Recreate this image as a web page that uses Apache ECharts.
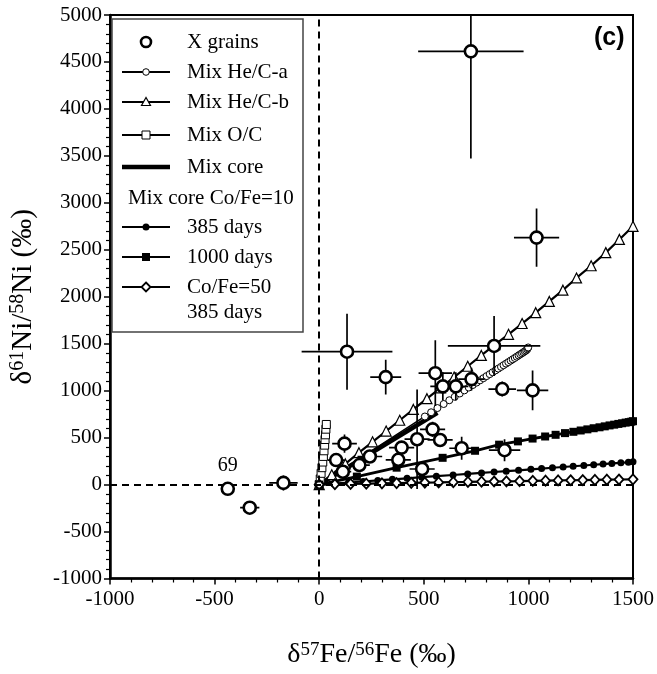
<!DOCTYPE html>
<html><head><meta charset="utf-8">
<script src="https://cdn.jsdelivr.net/npm/echarts@6/dist/echarts.min.js"></script>
<style>html,body{margin:0;padding:0;background:#fff}#c{width:657px;height:674px}</style>
</head><body><div id="c"></div>
<script>
// X grains: value, 1-sigma errors
const grainX  = [725, 1039, 836, 133, 318, 555, 591, 653, 728, 875, 1020, 542, 468, 578, 681, 886, 492, 121, 81, 113, 192, 242, 378, 394, -437, -332, -171];
const grainY  = [4613, 2630, 1476, 1415, 1144, 1186, 1046, 1046, 1123, 1017, 1003, 588, 483, 475, 387, 366, 166, 436, 261, 137, 208, 299, 264, 394, -45, -246, 18];
const grainEX = [252, 108, 221, 217, 74, 80, 60, 60, 63, 66, 75, 60, 60, 60, 59, 75, 60, 59, 40, 40, 50, 59, 60, 60, 0, 46, 68];
const grainEY = [1140, 310, 320, 405, 185, 350, 150, 150, 120, 80, 211, 80, 530, 60, 123, 118, 60, 97, 60, 60, 60, 60, 60, 60, 0, 20, 80];
const grainLabel = ['', '', '', '', '', '', '', '', '', '', '', '', '', '', '', '', '', '', '', '', '', '', '', '', '69', '', ''];

// Mixing models
const hecaX = [0, 505, 535, 565, 595, 622, 648, 672, 694, 715, 734, 752, 769, 785, 800, 815, 829, 843, 856, 869, 881, 893, 904, 915, 925, 935, 944, 953, 961, 969, 976, 983, 989, 994, 997, 999];
const hecaY = [0, 725, 770, 815, 858, 898, 935, 970, 1003, 1033, 1060, 1086, 1110, 1133, 1155, 1176, 1196, 1216, 1235, 1253, 1271, 1288, 1304, 1320, 1334, 1348, 1362, 1375, 1387, 1398, 1409, 1419, 1428, 1440, 1452, 1460];
const hecbX = [0, 60, 125, 190, 255, 320, 385, 450, 515, 580, 645, 710, 775, 840, 905, 970, 1035, 1100, 1165, 1230, 1300, 1370, 1435, 1500];
const hecbY = [0, 105, 220, 340, 455, 570, 685, 800, 915, 1030, 1145, 1260, 1375, 1490, 1600, 1715, 1830, 1950, 2070, 2200, 2330, 2470, 2610, 2750];
const ocX = [0, 5, 9, 13, 17, 20, 23, 26, 28, 30, 32, 34];
const ocY = [0, 60, 120, 180, 240, 300, 360, 420, 480, 530, 590, 640];
const coreX = [0, 565];
const coreY = [0, 765];
const d385X = [0, 70, 140, 210, 280, 350, 420, 490, 560, 640, 710, 776, 836, 894, 953, 1012, 1063, 1115, 1166, 1214, 1265, 1312, 1357, 1399, 1442, 1478, 1500];
const d385Y = [0, 10, 22, 33, 44, 56, 67, 79, 90, 102, 113, 124, 134, 143, 152, 162, 170, 179, 187, 195, 203, 211, 218, 225, 232, 238, 242];
const d1000X = [0, 180, 370, 590, 745, 860, 950, 1020, 1080, 1130, 1175, 1215, 1250, 1282, 1312, 1340, 1365, 1388, 1410, 1430, 1448, 1465, 1480, 1492, 1500];
const d1000Y = [0, 85, 180, 285, 360, 425, 460, 490, 512, 530, 548, 562, 576, 588, 600, 610, 620, 630, 638, 646, 653, 660, 665, 670, 675];
const co50X = [0, 75, 150, 225, 300, 370, 440, 505, 571, 641, 711, 776, 836, 895, 958, 1021, 1082, 1142, 1202, 1260, 1318, 1375, 1433, 1500];
const co50Y = [0, 4, 7, 10, 13, 16, 19, 21, 23, 26, 28, 31, 33, 35, 37, 40, 42, 44, 46, 48, 50, 52, 54, 56];

const xTicks = [-1000, 1500, 500];
const yTicks = [-1000, 5000, 500];

const SERIF = "Liberation Serif";
const zip = (a, b) => a.map((v, i) => [v, b[i]]);

const chart = echarts.init(document.getElementById('c'), null, {renderer: 'canvas'});

function modelSeries(name, xs, ys, opt) {
  return Object.assign({
    name, type: 'line', data: zip(xs, ys), showSymbol: true, symbolKeepAspect: true,
    lineStyle: {color: '#000', width: 2},
    itemStyle: {color: '#fff', borderColor: '#000', borderWidth: 1.2},
    animation: false, z: 2, clip: true
  }, opt);
}

// Legend drawn as graphic elements
const LX1 = 122, LX2 = 170, LCX = 146, TX = 187;
const rows = [42, 72, 102, 135, 167, 198, 227, 257, 287, 312];
const g = [];
g.push({type: 'rect', shape: {x: 112, y: 19, width: 191, height: 313}, style: {fill: '#fff', stroke: '#444', lineWidth: 1.5}, z: 50});
function lline(y, w) { g.push({type: 'line', shape: {x1: LX1, y1: y, x2: LX2, y2: y}, style: {stroke: '#000', lineWidth: w || 2}, z: 51}); }
function ltext(x, y, t) { g.push({type: 'text', x: x, y: y, style: {text: t, font: '21px "Liberation Serif", serif', fill: '#000', verticalAlign: 'middle'}, z: 52}); }
g.push({type: 'circle', shape: {cx: LCX, cy: rows[0], r: 5}, style: {fill: '#fff', stroke: '#000', lineWidth: 2.6}, z: 52});
ltext(TX, rows[0], 'X grains');
lline(rows[1]); g.push({type: 'circle', shape: {cx: LCX, cy: rows[1], r: 3.3}, style: {fill: '#fff', stroke: '#000', lineWidth: 1}, z: 52});
ltext(TX, rows[1], 'Mix He/C-a');
lline(rows[2]); g.push({type: 'polygon', shape: {points: [[LCX, rows[2] - 4.5], [LCX - 4.5, rows[2] + 3.5], [LCX + 4.5, rows[2] + 3.5]]}, style: {fill: '#fff', stroke: '#000', lineWidth: 1.2}, z: 52});
ltext(TX, rows[2], 'Mix He/C-b');
lline(rows[3]); g.push({type: 'rect', shape: {x: LCX - 4, y: rows[3] - 4, width: 8, height: 8}, style: {fill: '#fff', stroke: '#000', lineWidth: 1}, z: 52});
ltext(TX, rows[3], 'Mix O/C');
lline(rows[4], 4.5);
ltext(TX, rows[4], 'Mix core');
ltext(128, rows[5], 'Mix core Co/Fe=10');
lline(rows[6]); g.push({type: 'circle', shape: {cx: LCX, cy: rows[6], r: 3.5}, style: {fill: '#000'}, z: 52});
ltext(TX, rows[6], '385 days');
lline(rows[7]); g.push({type: 'rect', shape: {x: LCX - 4, y: rows[7] - 4, width: 8, height: 8}, style: {fill: '#000'}, z: 52});
ltext(TX, rows[7], '1000 days');
lline(rows[8]); g.push({type: 'polygon', shape: {points: [[LCX, rows[8] - 4.5], [LCX + 4.5, rows[8]], [LCX, rows[8] + 4.5], [LCX - 4.5, rows[8]]]}, style: {fill: '#fff', stroke: '#000', lineWidth: 1.8}, z: 52});
ltext(TX, rows[8], 'Co/Fe=50');
ltext(TX, rows[9], '385 days');
g.push({type: 'text', x: 594, y: 38, style: {text: '(c)', font: 'bold 25px "Liberation Sans", sans-serif', fill: '#000', verticalAlign: 'middle'}, z: 52});

const titleRichX = {
  b: {fontFamily: SERIF, fontSize: 28, color: '#000'},
  s: {fontFamily: SERIF, fontSize: 19, color: '#000', verticalAlign: 'bottom', padding: [0, 0, 10, 0]}
};
const titleRichY = {
  b: {fontFamily: SERIF, fontSize: 29, color: '#000'},
  s: {fontFamily: SERIF, fontSize: 20, color: '#000', verticalAlign: 'bottom', padding: [0, 0, 10, 0]}
};
const plainLabel = v => String(v);

const option = {
  backgroundColor: '#fff',
  animation: false,
  grid: {left: 108, right: 21, top: 15, bottom: 91, show: true, borderColor: '#000', borderWidth: 2, backgroundColor: 'transparent'},
  xAxis: {
    type: 'value', min: xTicks[0], max: xTicks[1], interval: xTicks[2],
    name: '{b|δ}{s|57}{b|Fe/}{s|56}{b|Fe (‰)}', nameLocation: 'middle', nameGap: 62,
    nameTextStyle: {rich: titleRichX},
    axisLine: {onZero: false, lineStyle: {color: '#000', width: 2.5}},
    axisTick: {inside: false, length: 6, lineStyle: {color: '#000', width: 1.5}},
    minorTick: {show: true, splitNumber: 5, length: 4, lineStyle: {color: '#000', width: 1.2}},
    splitLine: {show: false},
    axisLabel: {fontFamily: SERIF, fontSize: 21, color: '#000', margin: 10, formatter: plainLabel}
  },
  yAxis: {
    type: 'value', min: yTicks[0], max: yTicks[1], interval: yTicks[2],
    name: '{b|δ}{s|61}{b|Ni/}{s|58}{b|Ni (‰)}', nameLocation: 'middle', nameGap: 72, nameRotate: 90,
    nameTextStyle: {rich: titleRichY},
    axisLine: {onZero: false, lineStyle: {color: '#000', width: 2.5}},
    axisTick: {inside: false, length: 6, lineStyle: {color: '#000', width: 1.5}},
    minorTick: {show: true, splitNumber: 5, length: 4, lineStyle: {color: '#000', width: 1.2}},
    splitLine: {show: false},
    axisLabel: {fontFamily: SERIF, fontSize: 21, color: '#000', margin: 8, formatter: plainLabel}
  },
  graphic: g,
  series: [
    {
      type: 'line', data: [], silent: true,
      markLine: {
        silent: true, symbol: 'none', animation: false,
        lineStyle: {color: '#000', width: 2, type: [7, 5]},
        label: {show: false},
        data: [{xAxis: 0}, {yAxis: 0}]
      }
    },
    modelSeries('Mix core', coreX, coreY, {showSymbol: false, symbol: 'none', lineStyle: {color: '#000', width: 4.5}, z: 3}),
    modelSeries('Mix He/C-a', hecaX, hecaY, {symbol: 'circle', symbolSize: 7, lineStyle: {color: '#000', width: 1.5}, itemStyle: {color: '#fff', borderColor: '#000', borderWidth: 1}, z: 4}),
    modelSeries('Mix He/C-b', hecbX, hecbY, {symbol: 'triangle', symbolSize: 10, lineStyle: {color: '#000', width: 2.2}, itemStyle: {color: '#fff', borderColor: '#000', borderWidth: 1.2}, z: 4}),
    modelSeries('Mix O/C', ocX, ocY, {symbol: 'rect', symbolSize: 8, lineStyle: {color: '#000', width: 1.2}, itemStyle: {color: '#fff', borderColor: '#000', borderWidth: 1}, z: 4}),
    modelSeries('385 days', d385X, d385Y, {symbol: 'circle', symbolSize: 7, lineStyle: {color: '#000', width: 2.2}, itemStyle: {color: '#000', borderWidth: 0}, z: 4}),
    modelSeries('1000 days', d1000X, d1000Y, {symbol: 'rect', symbolSize: 8, lineStyle: {color: '#000', width: 2.8}, itemStyle: {color: '#000', borderWidth: 0}, z: 4}),
    modelSeries('Co/Fe=50 385 days', co50X, co50Y, {symbol: 'diamond', symbolSize: [9, 10], lineStyle: {color: '#000', width: 2.2}, itemStyle: {color: '#fff', borderColor: '#000', borderWidth: 1.8}, z: 4}),
    {
      type: 'custom', name: 'errors', z: 5, clip: true, silent: true,
      data: grainX.map((x, i) => [x, grainY[i], grainEX[i], grainEY[i]]),
      renderItem: function (params, api) {
        const x = api.value(0), y = api.value(1), ex = api.value(2), ey = api.value(3);
        const l = api.coord([x - ex, y]), r = api.coord([x + ex, y]);
        const t = api.coord([x, y + ey]), b = api.coord([x, y - ey]);
        return {type: 'group', children: [
          {type: 'line', shape: {x1: l[0], y1: l[1], x2: r[0], y2: r[1]}, style: {stroke: '#000', lineWidth: 1.7}},
          {type: 'line', shape: {x1: t[0], y1: t[1], x2: b[0], y2: b[1]}, style: {stroke: '#000', lineWidth: 1.7}}
        ]};
      }
    },
    {
      type: 'scatter', name: 'X grains', z: 6, symbol: 'circle', symbolSize: 12,
      data: grainX.map((x, i) => ({value: [x, grainY[i]], label: {show: grainLabel[i] !== '', formatter: grainLabel[i]}})),
      itemStyle: {color: '#fff', borderColor: '#000', borderWidth: 2.6, opacity: 1},
      label: {position: 'top', distance: 6, fontFamily: SERIF, fontSize: 20, color: '#000'}
    }
  ]
};
chart.setOption(option);
</script>
</body></html>
